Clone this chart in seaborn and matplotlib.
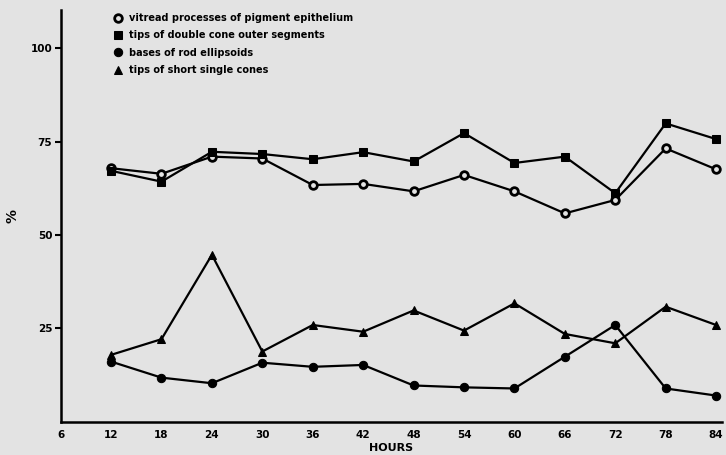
import pandas as pd
import matplotlib
matplotlib.use("Agg")
import matplotlib.pyplot as plt
import seaborn as sns

# hours of light adaptation
hours = [12, 18, 24, 30, 36, 42, 48, 54, 60, 66, 72, 78, 84]

# % values
vitread_pe = [67.9, 66.4, 71.0, 70.5, 63.4, 63.7, 61.7, 66.1, 61.7, 55.8, 59.4, 73.2, 67.6]
double_cone_tips = [67.2, 64.3, 72.3, 71.7, 70.3, 72.2, 69.7, 77.3, 69.3, 71.0, 61.2, 79.9, 75.7]
rod_ellipsoid_bases = [16.1, 11.8, 10.3, 15.8, 14.7, 15.2, 9.7, 9.2, 8.9, 17.4, 25.9, 8.9, 7.0]
single_cone_tips = [17.9, 22.1, 44.7, 18.8, 25.9, 24.1, 29.8, 24.4, 31.7, 23.5, 21.0, 30.8, 25.9]

labels = ["vitread processes of pigment epithelium",
          "tips of double cone outer segments",
          "bases of rod ellipsoids",
          "tips of short single cones"]
xticks = [6, 12, 18, 24, 30, 36, 42, 48, 54, 60, 66, 72, 78, 84]
yticks = [25, 50, 75, 100]

bg = "#e3e3e3"
sns.set_style("ticks")
plt.rcParams["font.family"] = ["DejaVu Sans"]
plt.rcParams["font.weight"] = "bold"
plt.rcParams["text.color"] = "black"
plt.rcParams["axes.labelcolor"] = "black"
plt.rcParams["xtick.color"] = "black"
plt.rcParams["ytick.color"] = "black"
plt.rcParams["axes.edgecolor"] = "black"

fig = plt.figure(figsize=(7.26, 4.55), dpi=100, facecolor=bg)
ax = fig.add_axes([0.0835, 0.0732, 0.911, 0.905], facecolor=bg)

series = [vitread_pe, double_cone_tips, rod_ellipsoid_bases, single_cone_tips]
styles = [dict(marker="o", markerfacecolor=bg, markeredgewidth=2.0, markersize=5.5),
          dict(marker="s", markerfacecolor="black", markersize=5.5),
          dict(marker="o", markerfacecolor="black", markersize=6),
          dict(marker="^", markerfacecolor="black", markersize=5.5)]

for vals, lab, st in zip(series, labels, styles):
    df = pd.DataFrame({"hours": hours, "pct": vals})
    sns.lineplot(data=df, x="hours", y="pct", ax=ax, color="black",
                 linewidth=1.6, markeredgecolor="black", label=lab, **st)

ax.set_xlim(6, 84.7)
ax.set_ylim(0, 110.3)
ax.set_xticks(xticks)
ax.set_xticklabels([str(t) for t in xticks], fontsize=7.5, fontweight="bold")
ax.set_yticks(yticks)
ax.set_yticklabels([str(t) for t in yticks], fontsize=7.5, fontweight="bold")
ax.tick_params(axis="x", length=0, pad=6)
ax.tick_params(axis="y", length=4, width=1.5, pad=2)
for side in ["top", "right"]:
    ax.spines[side].set_visible(False)
for side in ["left", "bottom"]:
    ax.spines[side].set_linewidth(1.8)

ax.set_xlabel("HOURS", fontsize=8, fontweight="bold", labelpad=2)
ax.set_ylabel("%", fontsize=10, fontweight="bold", labelpad=8)

ax.legend(loc="upper left", bbox_to_anchor=(0.156, 0.971),
          bbox_transform=fig.transFigure, frameon=False,
          handlelength=1.0, handletextpad=0.6, labelspacing=0.75,
          borderpad=0, borderaxespad=0, prop={"weight": "bold", "size": 7})
leg = ax.get_legend()
for line in leg.get_lines():
    line.set_linestyle("none")

fig.savefig("out.png", dpi=100, facecolor=bg)
